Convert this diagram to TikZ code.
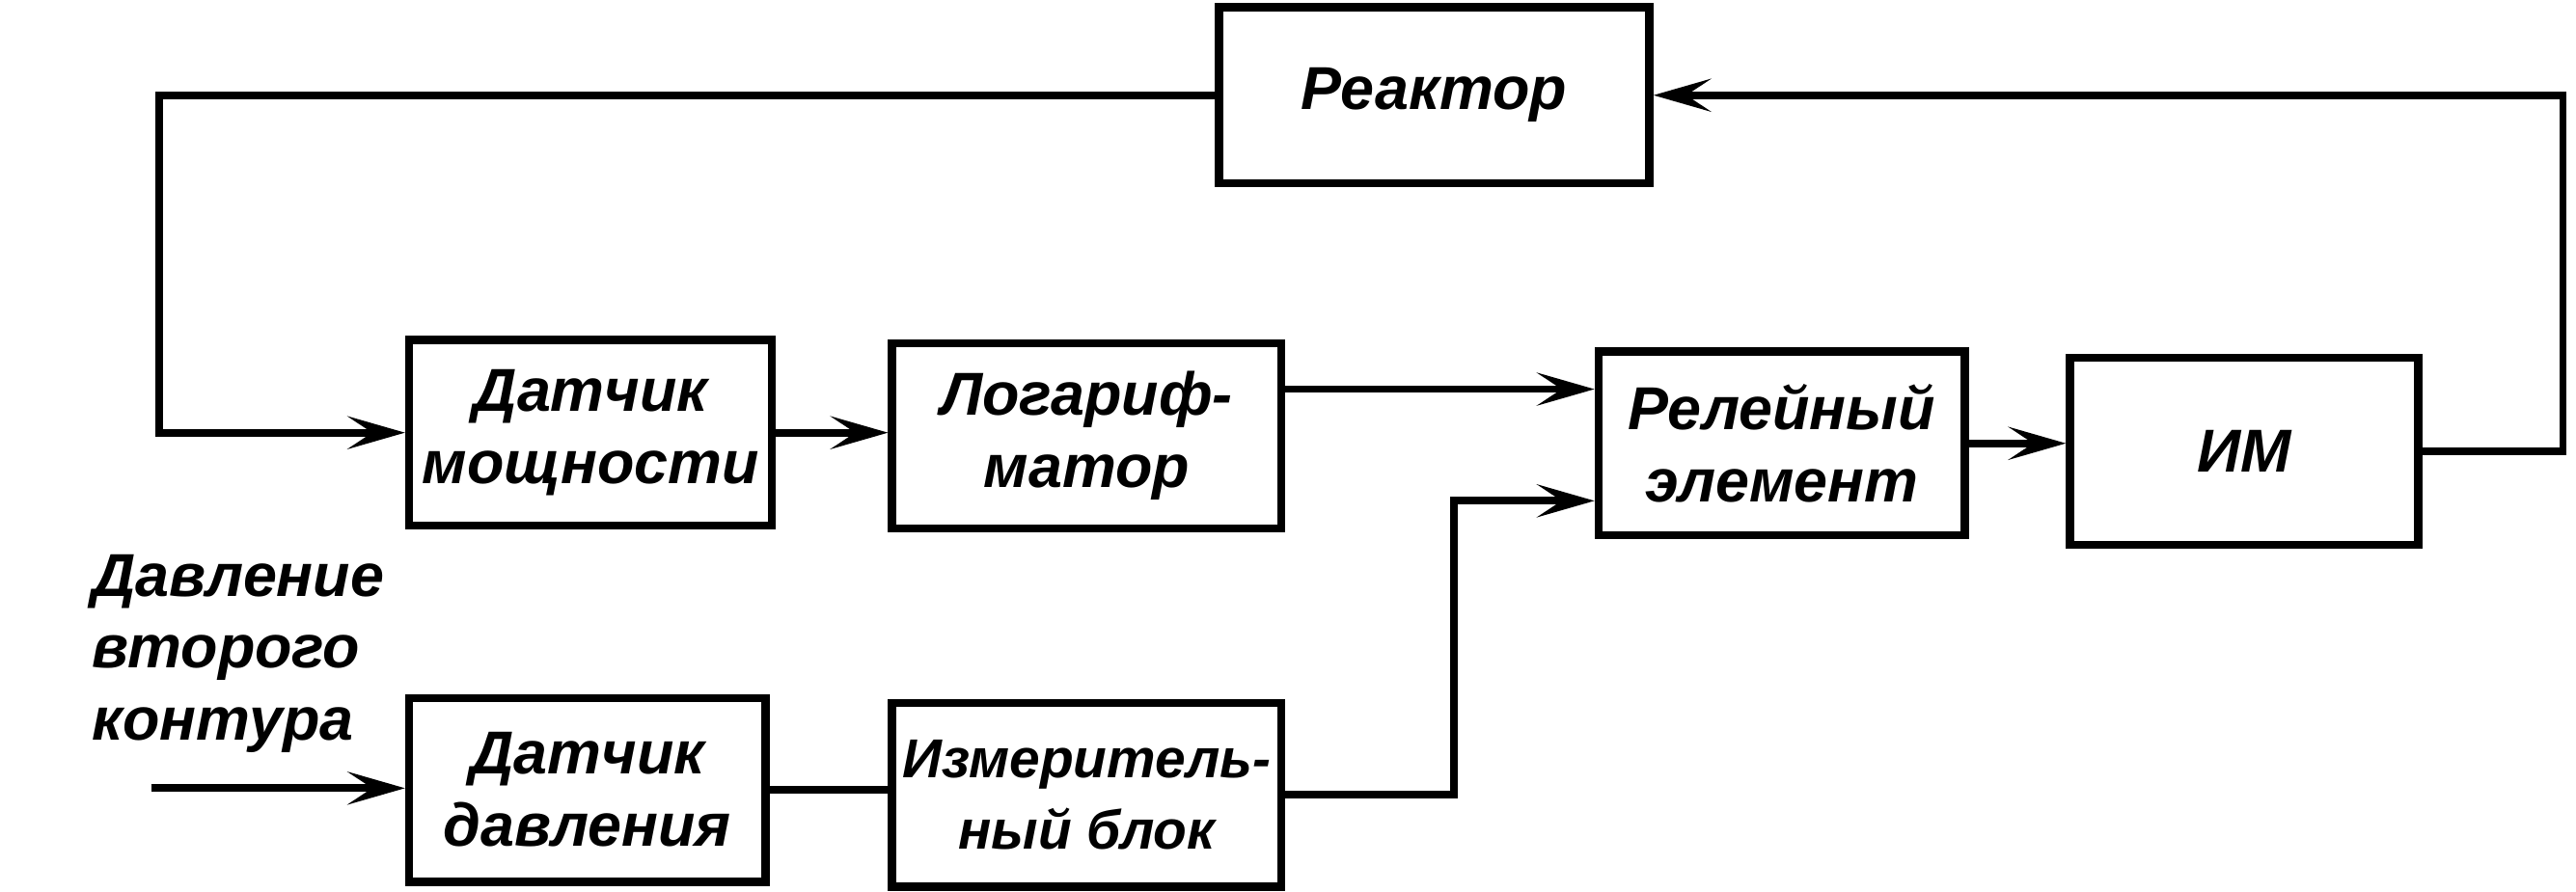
\documentclass[tikz,border=0pt]{standalone}
\usepackage{fontspec}
\setmainfont{Liberation Sans}
\usetikzlibrary{arrows.meta}
\begin{document}
\begin{tikzpicture}[x=0.02cm,y=-0.02cm,
  blk/.style={draw,line width=2.8pt,minimum width=#1,inner sep=0pt,align=center,
    font=\fontsize{21}{25}\selectfont\bfseries\itshape},
  ln/.style={line width=2.6pt},
  ar/.style={ln,-{Stealth[length=0.7cm,width=0.4cm,inset=0.3cm]}}]
\useasboundingbox (0,0) rectangle (1568,543);
\node[blk=5.24cm,minimum height=2.14cm] (r) at (873,58) {Реактор};
\node[blk=4.42cm,minimum height=2.26cm] (dm) at (359.5,263.5) {Датчик\\мощности};
\node[blk=4.74cm,minimum height=2.26cm] (lg) at (661.5,265.5) {Логариф-\\матор};
\node[blk=4.46cm,minimum height=2.24cm] (re) at (1084.5,270) {Релейный\\элемент};
\node[blk=4.24cm,minimum height=2.28cm] (im) at (1366,275) {ИМ};
\node[blk=4.34cm,minimum height=2.24cm] (dd) at (357.5,481) {Датчик\\давления};
\node[blk=4.74cm,minimum height=2.24cm,font=\fontsize{19}{25}\selectfont\bfseries\itshape] (ib) at (661.5,484) {Измеритель-\\ный блок};
\node[font=\fontsize{21}{25}\selectfont\bfseries\itshape,align=left] (lab) at (145,398) {Давление\\второго\\контура};
\coordinate (in) at (92,480);
\draw[ar] (r.west) -- (97,58) |- (dm.west);
\draw[ar] (im.east) -- (1560,275) |- (r.east);
\draw[ar] (dm.east) -- (dm.east -| lg.west);
\draw[ar] (lg.east |- 0,237) -- (re.west |- 0,237);
\draw[ar] (ib.east) -- (885,484) |- (re.west |- 0,305);
\draw[ln] (dd.east) -- (dd.east -| ib.west);
\draw[ar] (in) -- (in -| dd.west);
\draw[ar] (re.east) -- (im.west |- re.east);
\end{tikzpicture}
\end{document}
